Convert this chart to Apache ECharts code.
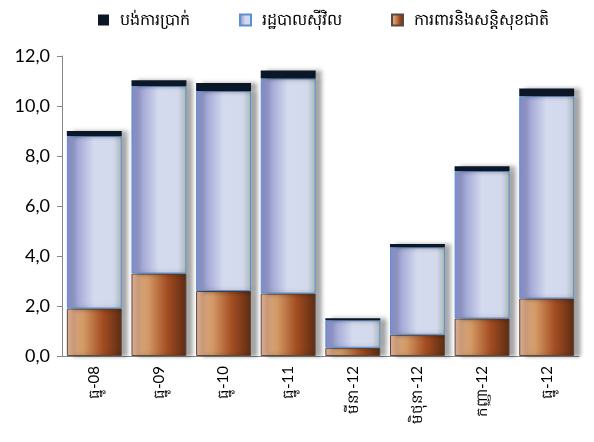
<!DOCTYPE html>
<html>
<head>
<meta charset="utf-8">
<script src="https://cdn.jsdelivr.net/npm/echarts@6/dist/echarts.min.js"></script>
<style>
  html, body { margin: 0; padding: 0; background: #fff; }
  #chart { width: 594px; height: 442px; }
</style>
</head>
<body>
<div id="chart"></div>
<script>
const categories = ['ធ្នូ-08', 'ធ្នូ-09', 'ធ្នូ-10', 'ធ្នូ-11', 'មីនា-12', 'មិថុនា-12', 'កញ្ញា-12', 'ធ្នូ-12'];
const seriesNames = ['បង់ការប្រាក់', 'រដ្ឋបាលស៊ីវិល', 'ការពារនិងសន្តិសុខជាតិ'];
const defense = [1.9, 3.3, 2.6, 2.5, 0.33, 0.85, 1.5, 2.3];
const civil = [6.9, 7.5, 8.0, 8.6, 1.1, 3.5, 5.9, 8.1];
const interest = [0.2, 0.23, 0.32, 0.32, 0.08, 0.13, 0.19, 0.3];
const yTicks = { min: 0, max: 12, interval: 2 };

const chart = echarts.init(document.getElementById('chart'));

const blueFill = new echarts.graphic.LinearGradient(0, 0, 1, 0, [
    { offset: 0, color: '#8288c4' },
    { offset: 0.5, color: '#d5dbef' },
    { offset: 0.85, color: '#d3d9ec' },
    { offset: 1, color: '#a9b8b4' }
]);
const brownFill = new echarts.graphic.LinearGradient(0, 0, 1, 0, [
    { offset: 0, color: '#d9ab92' },
    { offset: 0.3, color: '#d39a66' },
    { offset: 0.65, color: '#a44d22' },
    { offset: 1, color: '#5c2c12' }
]);
const shadow = {
    shadowColor: 'rgba(0,0,0,0.35)',
    shadowBlur: 4,
    shadowOffsetX: 6,
    shadowOffsetY: 0
};

chart.setOption({
    animation: false,
    textStyle: { fontFamily: 'Lato, "Noto Sans", sans-serif' },
    legend: {
        top: 7,
        left: 93,
        itemWidth: 11,
        itemHeight: 11,
        itemGap: 49,
        icon: 'rect',
        textStyle: { fontSize: 16, color: '#000', padding: [0, 0, 0, 6] },
        data: seriesNames
    },
    grid: { left: 62, right: 15, top: 56, bottom: 86 },
    xAxis: {
        type: 'category',
        data: categories,
        axisLine: { lineStyle: { color: '#868686' } },
        axisTick: { length: 6, lineStyle: { color: '#868686' } },
        axisLabel: { rotate: 90, fontSize: 15, color: '#000', margin: 10 }
    },
    yAxis: {
        type: 'value',
        min: yTicks.min,
        max: yTicks.max,
        interval: yTicks.interval,
        splitLine: { show: false },
        axisLine: { show: true, lineStyle: { color: '#868686' } },
        axisTick: { show: true, length: 5, lineStyle: { color: '#868686' } },
        axisLabel: {
            fontSize: 18,
            color: '#000',
            margin: 12,
            formatter: v => v.toFixed(1).replace('.', ',')
        }
    },
    series: [
        {
            name: seriesNames[2],
            type: 'bar',
            stack: 'total',
            barCategoryGap: '15%',
            data: defense,
            itemStyle: Object.assign({ color: brownFill, borderColor: '#5a4a40', borderWidth: 1 }, shadow)
        },
        {
            name: seriesNames[1],
            type: 'bar',
            stack: 'total',
            data: civil,
            itemStyle: Object.assign({ color: blueFill, borderColor: '#5b8fd4', borderWidth: 1 }, shadow)
        },
        {
            name: seriesNames[0],
            type: 'bar',
            stack: 'total',
            data: interest,
            itemStyle: Object.assign({ color: '#0b1727' }, shadow)
        }
    ]
});
</script>
</body>
</html>
